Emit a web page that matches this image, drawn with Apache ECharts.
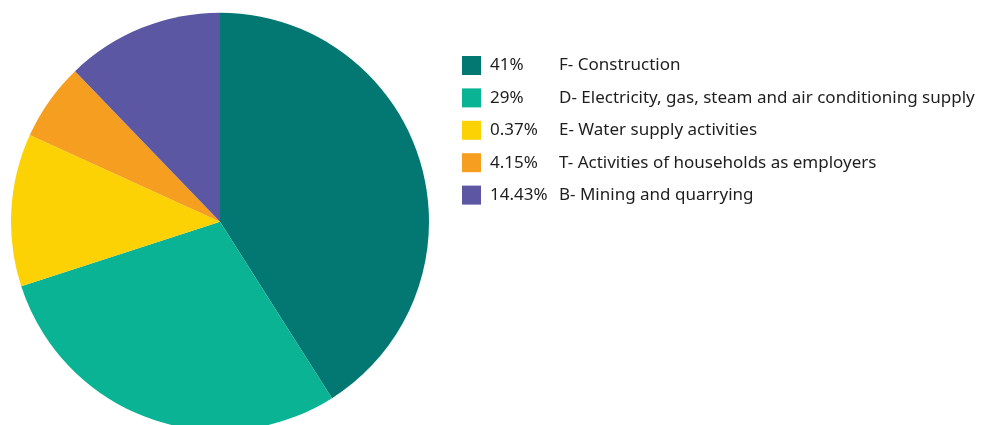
<!DOCTYPE html>
<html>
<head>
<meta charset="utf-8">
<style>
  html, body { margin: 0; padding: 0; background: #fff; }
  #chart { width: 982px; height: 425px; }
</style>
<script src="https://cdn.jsdelivr.net/npm/echarts@6/dist/echarts.min.js"></script>
</head>
<body>
<div id="chart"></div>
<script>
// Sector categories
const categories = [
  'F- Construction',
  'D- Electricity, gas, steam and air conditioning supply',
  'E- Water supply activities',
  'T- Activities of households as employers',
  'B- Mining and quarrying'
];
// Percent text shown beside each legend entry
const shareLabels = ['41%', '29%', '0.37%', '4.15%', '14.43%'];
// Slice sizes
const sliceValues = [41, 29, 11.8, 6, 12.2];
const colors = ['#037872', '#0bb395', '#fcd205', '#f69e1f', '#5b57a2'];

const chart = echarts.init(document.getElementById('chart'), null, { renderer: 'canvas' });

const shareByName = {};
categories.forEach((c, i) => { shareByName[c] = shareLabels[i]; });

chart.setOption({
  animation: false,
  color: colors,
  legend: {
    orient: 'vertical',
    left: 462,
    top: 56,
    padding: 0,
    icon: 'rect',
    itemWidth: 19,
    itemHeight: 19,
    itemGap: 13.4,
    selectedMode: false,
    formatter: name => '{p|' + shareByName[name] + '}{n|' + name + '}',
    textStyle: {
      fontFamily: 'Noto Sans',
      fontSize: 17,
      color: '#1e1e1e',
      lineHeight: 19,
      rich: {
        p: { width: 69, padding: [0, 0, 0, 4], fontFamily: 'Noto Sans', fontSize: 17, color: '#1e1e1e' },
        n: { fontFamily: 'Noto Sans', fontSize: 17, color: '#1e1e1e' }
      }
    },
    data: categories
  },
  series: [{
    type: 'pie',
    center: [220, 221.7],
    radius: 209,
    startAngle: 90,
    clockwise: true,
    label: { show: false },
    labelLine: { show: false },
    emphasis: { disabled: true },
    itemStyle: { borderWidth: 0 },
    data: categories.map((c, i) => ({ name: c, value: sliceValues[i] }))
  }]
});
</script>
</body>
</html>
